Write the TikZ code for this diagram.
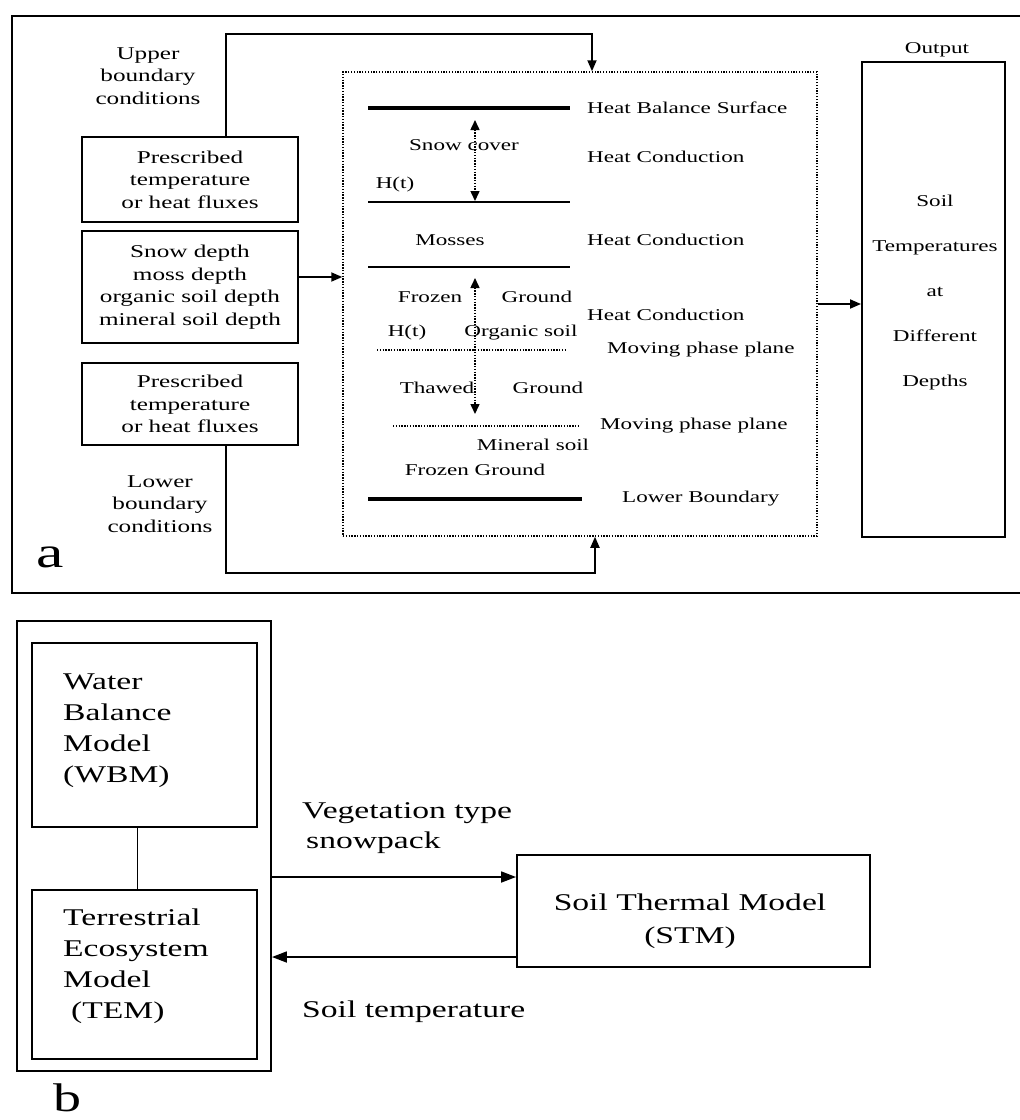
\documentclass[tikz,border=0pt]{standalone}
\usepackage{fontspec}
\setmainfont{Liberation Serif}[FakeStretch=1.4]
\usetikzlibrary{arrows.meta,calc}
\begin{document}
\begin{tikzpicture}[x=1pt,y=-1pt,
  box/.style={draw,line width=1.9pt,inner sep=0pt},
  lbl/.style={inner sep=0pt,font=\fontsize{18}{22.5}\selectfont,align=center},
  mlbl/.style={inner sep=0pt,font=\fontsize{16.5}{20}\selectfont},
  outlbl/.style={inner sep=0pt,font=\fontsize{16.5}{45}\selectfont,align=center},
  big/.style={inner sep=0pt,font=\fontsize{24}{31}\selectfont,align=left},
  dotline/.style={line width=1.5pt,dash pattern=on 1.3pt off 1.5pt},
  conn/.style={line width=1.8pt,-{Triangle[length=11pt,width=9pt]}},
  bconn/.style={line width=1.8pt,-{Triangle[length=15pt,width=11pt]}},
  vconn/.style={line width=1.5pt,dash pattern=on 1.3pt off 1.5pt,{Triangle[length=10pt,width=9pt]}-{Triangle[length=10pt,width=9pt]}},
]
\useasboundingbox (0,0) rectangle (1020,1120);
\fill[white] (0,0) rectangle (1020,1120);

% ---------------- panel a ----------------
\draw[line width=2pt] (1021,16) -- (12,16) -- (12,593) -- (1021,593);
\node[inner sep=0pt,font=\fontsize{44}{44}\selectfont] (la) at (50,557) {a};

\node[lbl] (upper) at (148,76) {Upper\\boundary\\conditions};
\node[lbl] (lower) at (160,504) {Lower\\boundary\\conditions};

\node[box,minimum width=216pt,minimum height=85pt] (box1) at (190,179.5) {};
\node[lbl] at (box1.center) {Prescribed\\temperature\\or heat fluxes};
\node[box,minimum width=216pt,minimum height=112pt] (box2) at (190,287) {};
\node[lbl] at (box2.center) {Snow depth\\moss depth\\organic soil depth\\mineral soil depth};
\node[box,minimum width=216pt,minimum height=82pt] (box3) at (190,404) {};
\node[lbl] at (box3.center) {Prescribed\\temperature\\or heat fluxes};

\node[draw,dotline,inner sep=0pt,minimum width=474pt,minimum height=464pt] (model) at (580,304) {};

\node[box,minimum width=143pt,minimum height=475pt] (out) at (933.5,299.5) {};
\node[outlbl] at (935,293) {Soil\\Temperatures\\at\\Different\\Depths};
\node[mlbl] (outtitle) at (937,50) {Output};

% connectors
\coordinate (u1) at (226,34);
\coordinate (u2) at (592,34);
\draw[conn] (box1.north -| u1) -- (u1) -- (u2) -- (u2 |- model.north);
\coordinate (l1) at (226,573);
\coordinate (l2) at (595,573);
\draw[conn] (box3.south -| l1) -- (l1) -- (l2) -- (l2 |- model.south);
\coordinate (m1) at ([yshift=10pt]box2.east);
\draw[conn] (m1) -- (m1 -| model.west);
\draw[conn] (model.east) -- (model.east -| out.west);

% layers
\draw[line width=4pt] (368,108) -- (570,108);
\draw[line width=1.7pt] (368,202) -- (570,202);
\draw[line width=1.7pt] (368,267) -- (570,267);
\draw[dotline] (377,350) -- (567,350);
\draw[dotline] (393,426) -- (580,426);
\draw[line width=4pt] (368,499) -- (582,499);

\draw[vconn] (475,120) -- (475,201);
\draw[vconn] (475,278) -- (475,414);

\node[mlbl] at (464,145) {Snow cover};
\node[mlbl] at (395,185) {H(t)};
\node[mlbl] at (450,240) {Mosses};
\node[mlbl] at (430,297) {Frozen};
\node[mlbl] at (537,297) {Ground};
\node[mlbl] at (407,333) {H(t)};
\node[mlbl] at (521,333) {Organic soil};
\node[mlbl] at (437,388) {Thawed};
\node[mlbl] at (548,388) {Ground};
\node[mlbl] at (533,445) {Mineral soil};
\node[mlbl] at (475,470) {Frozen Ground};

\node[mlbl,anchor=west] at (587,108) {Heat Balance Surface};
\node[mlbl,anchor=west] at (587,157) {Heat Conduction};
\node[mlbl,anchor=west] at (587,240) {Heat Conduction};
\node[mlbl,anchor=west] at (587,315) {Heat Conduction};
\node[mlbl,anchor=west] at (607,350) {Moving phase plane};
\node[mlbl,anchor=west] at (600,426) {Moving phase plane};
\node[mlbl,anchor=west] at (622,499) {Lower Boundary};

% ---------------- panel b ----------------
\node[box,minimum width=254pt,minimum height=450pt] (frameB) at (144,846) {};
\node[box,minimum width=225pt,minimum height=184pt] (wbm) at (144.5,735) {};
\node[big,anchor=north west] at (63,674) {Water\\Balance\\Model\\(WBM)};
\node[box,minimum width=225pt,minimum height=169pt] (tem) at (144.5,974.5) {};
\node[big,anchor=north west] at (63,909) {Terrestrial\\Ecosystem\\Model\\\hspace*{8pt}(TEM)};
\draw[line width=1.9pt] ([xshift=-7pt]wbm.south) -- ([xshift=-7pt]tem.north);

\node[box,minimum width=353pt,minimum height=112pt] (stm) at (693.5,911) {};
\node[inner sep=0pt,font=\fontsize{24}{33}\selectfont,align=center] at (690,921) {Soil Thermal Model\\(STM)};

\coordinate (s1) at ([yshift=34pt]stm.west);
\coordinate (s2) at ([yshift=-46pt]stm.west);
\draw[bconn] (frameB.east |- s1) -- (s1);
\draw[bconn] (s2) -- (frameB.east |- s2);

\node[big,anchor=west] at (302,813) {Vegetation type};
\node[big,anchor=west] at (306,843) {snowpack};
\node[big,anchor=west] at (302,1012) {Soil temperature};

\node[inner sep=0pt,font=\fontsize{40}{40}\selectfont] (lb) at (67,1098) {b};
\end{tikzpicture}
\end{document}
